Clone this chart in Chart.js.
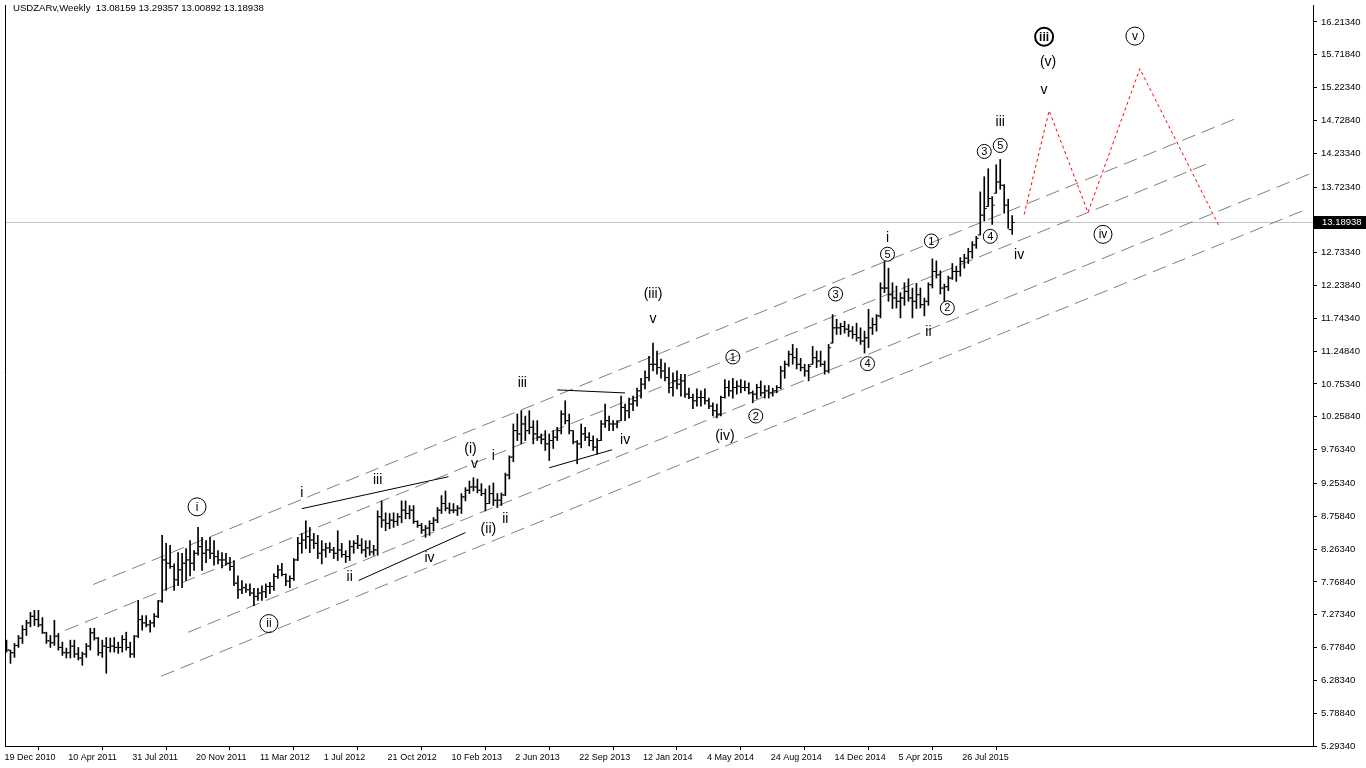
<!DOCTYPE html>
<html>
<head>
<meta charset="utf-8">
<script src="https://cdn.jsdelivr.net/npm/chart.js@4.4.0/dist/chart.umd.min.js"></script>
<style>
  html, body { margin: 0; padding: 0; background: #fff; }
  canvas { display: block; }
</style>
</head>
<body>
<canvas id="chart" width="1366" height="768"></canvas>
<script>
(function () {
    'use strict';

    // Weekly USDZAR bars, week 0 = 19 Dec 2010
    const opens = [
        6.80,6.74,6.70,6.81,6.92,7.05,7.15,7.25,7.20,7.12,
        7.00,6.88,6.85,6.95,6.78,6.70,6.70,6.80,6.68,6.62,
        6.68,6.80,7.00,6.92,6.70,6.80,6.78,6.80,6.78,6.78,
        6.90,6.78,6.68,6.95,7.20,7.15,7.12,7.15,7.25,7.48,
        8.10,8.05,8.00,7.80,7.95,8.05,8.10,8.05,8.20,8.30,
        8.20,8.25,8.20,8.15,8.10,8.10,8.05,8.00,7.75,7.65,
        7.68,7.65,7.60,7.55,7.60,7.62,7.70,7.70,7.85,7.95,
        7.88,7.78,7.82,8.10,8.35,8.40,8.45,8.40,8.35,8.20,
        8.25,8.28,8.25,8.20,8.25,8.18,8.15,8.30,8.35,8.32,
        8.25,8.28,8.22,8.25,8.75,8.70,8.65,8.70,8.68,8.75,
        8.85,8.80,8.85,8.68,8.62,8.55,8.58,8.65,8.70,8.85,
        8.95,8.88,8.85,8.85,8.88,9.05,9.15,9.20,9.20,9.15,
        9.10,8.95,9.10,9.00,9.00,9.08,9.38,9.65,10.05,10.00,
        10.15,10.05,10.10,10.00,9.95,9.92,9.85,9.90,9.95,10.05,
        10.30,10.20,10.05,9.88,9.85,10.00,9.95,9.90,9.80,9.90,
        10.15,10.20,10.15,10.15,10.20,10.40,10.35,10.45,10.50,10.65,
        10.75,10.85,11.05,11.05,11.00,10.95,10.85,10.70,10.80,10.75,
        10.80,10.60,10.55,10.50,10.55,10.55,10.50,10.42,10.35,10.30,
        10.55,10.70,10.65,10.70,10.72,10.70,10.70,10.62,10.60,10.70,
        10.62,10.65,10.62,10.65,10.70,10.95,11.05,11.20,11.15,11.05,
        11.00,10.95,11.05,11.15,11.10,11.05,10.95,11.37,11.60,11.60,
        11.62,11.58,11.55,11.50,11.45,11.40,11.45,11.60,11.65,11.78,
        12.20,12.20,12.10,12.05,12.00,12.05,12.15,12.05,12.00,12.10,
        11.95,12.00,12.25,12.45,12.40,12.20,12.22,12.35,12.45,12.45,
        12.60,12.65,12.75,12.85,13.00,13.30,13.43,13.55,13.63,13.80,
        13.75,13.45,13.08159
    ];
    const highs = [
        6.89,6.74,6.84,6.96,7.11,7.19,7.31,7.34,7.34,7.23,
        7.01,6.96,7.19,6.99,6.86,6.77,6.89,6.89,6.78,6.71,
        6.84,7.07,7.07,6.93,6.89,6.93,6.92,6.93,6.86,6.96,
        7.01,6.86,6.96,7.49,7.26,7.26,7.19,7.29,7.49,8.47,
        8.35,8.32,8.04,8.21,8.20,8.27,8.39,8.24,8.59,8.44,
        8.39,8.44,8.39,8.24,8.21,8.20,8.14,8.09,7.86,7.79,
        7.74,7.74,7.67,7.67,7.71,7.74,7.76,7.89,8.02,8.05,
        7.89,7.86,8.12,8.44,8.50,8.69,8.59,8.50,8.47,8.39,
        8.35,8.36,8.29,8.54,8.35,8.24,8.39,8.39,8.47,8.42,
        8.39,8.39,8.32,8.84,8.99,8.81,8.80,8.81,8.80,8.99,
        8.99,8.92,8.92,8.69,8.65,8.62,8.69,8.74,8.89,9.07,
        9.14,8.96,8.95,8.92,9.10,9.19,9.29,9.34,9.32,9.25,
        9.17,9.22,9.26,9.10,9.11,9.41,9.67,10.15,10.30,10.35,
        10.27,10.35,10.20,10.20,10.00,10.05,10.00,10.05,10.10,10.35,
        10.50,10.30,10.05,9.90,10.15,10.10,10.02,9.97,9.93,10.20,
        10.45,10.27,10.20,10.20,10.57,10.45,10.54,10.57,10.69,10.84,
        10.95,11.17,11.37,11.25,11.13,11.07,11.00,10.92,10.95,10.90,
        10.90,10.69,10.60,10.68,10.65,10.68,10.54,10.47,10.45,10.57,
        10.82,10.80,10.84,10.80,10.82,10.80,10.77,10.65,10.75,10.80,
        10.73,10.73,10.69,10.73,11.02,11.10,11.25,11.35,11.29,11.14,
        11.05,11.05,11.32,11.25,11.25,11.10,11.35,11.80,11.73,11.67,
        11.70,11.65,11.62,11.67,11.60,11.55,11.88,11.75,11.80,12.28,
        12.60,12.50,12.28,12.23,12.13,12.28,12.34,12.20,12.27,12.20,
        12.05,12.28,12.64,12.61,12.46,12.26,12.38,12.57,12.53,12.66,
        12.71,12.80,12.90,12.98,13.65,13.88,14.00,13.58,14.06,14.14,
        13.76,13.54,13.29357
    ];
    const lows = [
        6.71,6.54,6.63,6.78,6.84,6.96,7.09,7.11,7.09,6.99,
        6.84,6.78,6.81,6.74,6.66,6.62,6.62,6.63,6.59,6.51,
        6.63,6.74,6.89,6.66,6.63,6.39,6.71,6.71,6.69,6.71,
        6.74,6.63,6.63,6.93,7.04,7.09,7.01,7.09,7.23,7.46,
        7.64,7.97,7.64,7.71,7.68,7.79,7.86,7.94,8.17,7.94,
        8.06,8.12,8.02,8.04,7.98,8.02,7.94,7.71,7.52,7.59,
        7.61,7.56,7.41,7.49,7.49,7.53,7.59,7.64,7.82,7.86,
        7.71,7.68,7.79,8.09,8.20,8.27,8.21,8.27,8.12,8.04,
        8.14,8.21,8.12,8.09,8.14,8.06,8.09,8.20,8.27,8.20,
        8.14,8.17,8.17,8.17,8.59,8.54,8.57,8.59,8.62,8.66,
        8.72,8.72,8.65,8.59,8.50,8.44,8.47,8.54,8.66,8.80,
        8.84,8.80,8.81,8.77,8.80,8.99,9.10,9.14,9.11,9.07,
        8.84,8.95,8.92,8.89,8.92,9.07,9.32,9.58,9.90,9.85,
        9.90,10.00,9.85,9.90,9.85,9.75,9.60,9.78,9.90,10.00,
        10.15,10.00,9.85,9.55,9.79,9.90,9.82,9.75,9.70,9.90,
        10.10,10.05,10.05,10.09,10.20,10.20,10.24,10.35,10.42,10.54,
        10.68,10.80,10.95,10.90,10.84,10.80,10.62,10.57,10.68,10.57,
        10.55,10.53,10.38,10.42,10.42,10.45,10.38,10.27,10.24,10.27,
        10.54,10.57,10.54,10.60,10.62,10.65,10.60,10.47,10.53,10.57,
        10.54,10.54,10.57,10.62,10.68,10.84,11.02,11.05,10.98,10.95,
        10.87,10.80,11.05,11.00,11.02,10.90,10.92,11.37,11.50,11.50,
        11.52,11.47,11.44,11.40,11.35,11.22,11.30,11.50,11.55,11.75,
        12.13,12.00,11.89,11.90,11.75,11.94,12.00,11.75,11.89,11.90,
        11.78,11.94,12.20,12.35,12.11,12.00,12.16,12.33,12.30,12.38,
        12.50,12.57,12.65,12.80,13.00,13.21,13.43,13.16,13.63,13.69,
        13.33,13.10,13.00892
    ];
    const closes = [
        6.74,6.70,6.81,6.92,7.05,7.15,7.25,7.20,7.12,7.00,
        6.88,6.85,6.95,6.78,6.70,6.70,6.80,6.68,6.62,6.68,
        6.80,7.00,6.92,6.70,6.80,6.78,6.80,6.78,6.78,6.90,
        6.78,6.68,6.95,7.20,7.15,7.12,7.15,7.25,7.48,8.10,
        8.05,8.00,7.80,7.95,8.05,8.10,8.05,8.20,8.30,8.20,
        8.25,8.20,8.15,8.10,8.10,8.05,8.00,7.75,7.65,7.68,
        7.65,7.60,7.55,7.60,7.62,7.70,7.70,7.85,7.95,7.88,
        7.78,7.82,8.10,8.35,8.40,8.45,8.40,8.35,8.20,8.25,
        8.28,8.25,8.20,8.25,8.18,8.15,8.30,8.35,8.32,8.25,
        8.28,8.22,8.25,8.75,8.70,8.65,8.70,8.68,8.75,8.85,
        8.80,8.85,8.68,8.62,8.55,8.58,8.65,8.70,8.85,8.95,
        8.88,8.85,8.85,8.88,9.05,9.15,9.20,9.20,9.15,9.10,
        8.95,9.10,9.00,9.00,9.08,9.38,9.65,10.05,10.00,10.15,
        10.05,10.10,10.00,9.95,9.92,9.85,9.90,9.95,10.05,10.30,
        10.20,10.05,9.88,9.85,10.00,9.95,9.90,9.80,9.90,10.15,
        10.20,10.15,10.15,10.18,10.40,10.35,10.45,10.50,10.65,10.75,
        10.85,11.05,11.05,11.00,10.95,10.85,10.70,10.80,10.75,10.80,
        10.60,10.55,10.50,10.55,10.55,10.50,10.42,10.35,10.30,10.55,
        10.70,10.65,10.70,10.72,10.70,10.70,10.62,10.60,10.70,10.62,
        10.65,10.62,10.65,10.70,10.95,11.05,11.20,11.15,11.05,11.00,
        10.95,11.02,11.15,11.10,11.05,10.95,11.30,11.60,11.60,11.62,
        11.58,11.55,11.50,11.45,11.40,11.45,11.60,11.65,11.78,12.20,
        12.20,12.10,12.05,12.00,12.05,12.15,12.05,12.00,12.10,11.95,
        12.00,12.25,12.45,12.40,12.20,12.22,12.35,12.45,12.45,12.60,
        12.65,12.75,12.85,12.95,13.30,13.40,13.55,13.45,13.80,13.75,
        13.45,13.08159,13.18938
    ];

    // date labels every 16 weeks
    const xTickIdx = [0,16,32,48,64,80,96,112,128,144,160,176,192,208,224,240];
    const xTickLabels = ['19 Dec 2010','10 Apr 2011','31 Jul 2011','20 Nov 2011','11 Mar 2012','1 Jul 2012',
        '21 Oct 2012','10 Feb 2013','2 Jun 2013','22 Sep 2013','12 Jan 2014','4 May 2014',
        '24 Aug 2014','14 Dec 2014','5 Apr 2015','26 Jul 2015'];

    const yTickValues = [16.2134,15.7184,15.2234,14.7284,14.2334,13.7234,12.7334,12.2384,11.7434,11.2484,
        10.7534,10.2584,9.7634,9.2534,8.7584,8.2634,7.7684,7.2734,6.7784,6.2834,5.7884,5.2934];

    // channel lines [week, price] pairs
    const channelA = [[21.75, 7.73], [308, 14.755]];
    const channelB = [[14.75, 7.038], [301, 14.078]];
    const channelC = [[45.5, 7.008], [326.75, 13.927]];
    const channelD = [[38.75, 6.346], [325, 13.371]];

    // solid wedge / triangle lines
    const wedgeTop = [[74, 8.873], [110.75, 9.355]];
    const wedgeBottom = [[88.25, 7.790], [115, 8.512]];
    const triTop = [[138, 10.664], [155, 10.618]];
    const triBottom = [[136, 9.490], [151.75, 9.761]];

    // red projection path
    const projection = [[255, 13.311], [261.25, 14.875], [271, 13.341], [284, 15.507], [303.75, 13.145]];

    // wave labels: week, price, text, kind (t text, n circled digit, c circled, b bold circled)
    const waveLabels = [
        [47.75, 8.90, 'i', 'c'], [65.75, 7.14, 'ii', 'c'],
        [74, 9.11, 'i', 't'], [93, 9.30, 'iii', 't'], [86, 7.84, 'ii', 't'], [106, 8.12, 'iv', 't'],
        [116.25, 9.776, '(i)', 't'], [117.25, 9.55, 'v', 't'], [122, 9.66, 'i', 't'],
        [120.75, 8.56, '(ii)', 't'], [125, 8.71, 'ii', 't'], [129.25, 10.77, 'iii', 't'],
        [155, 9.90, 'iv', 't'], [162, 12.11, '(iii)', 't'], [162, 11.73, 'v', 't'],
        [182, 11.16, '1', 'n'], [187.75, 10.27, '2', 'n'], [180, 9.97, '(iv)', 't'],
        [207.75, 12.11, '3', 'n'], [215.75, 11.06, '4', 'n'],
        [220.75, 12.95, 'i', 't'], [220.75, 12.71, '5', 'n'],
        [231.75, 12.91, '1', 'n'], [235.75, 11.90, '2', 'n'], [231, 11.54, 'ii', 't'],
        [245, 14.26, '3', 'n'], [249, 14.35, '5', 'n'], [249, 14.70, 'iii', 't'],
        [246.5, 12.98, '4', 'n'], [253.75, 12.69, 'iv', 't'],
        [260, 15.99, 'iii', 'b'], [261, 15.60, '(v)', 't'], [260, 15.19, 'v', 't'],
        [282.75, 16.00, 'v', 'c'], [274.75, 13.01, 'iv', 'c']
    ];

    const symbolTitle = 'USDZARv,Weekly';
    const lastIdx = closes.length - 1;
    const lastClose = closes[lastIdx];

    const X_MIN = -0.375, X_MAX = 327.375;
    const Y_MIN = 5.2934, Y_MAX = 16.469;
    const FONT = '"Liberation Sans", Arial, sans-serif';

    function pts(arr) { return arr.map(p => ({ x: p[0], y: p[1] })); }

    function lineSet(arr, color, dash, order) {
        return {
            type: 'line', data: pts(arr), borderColor: color, borderWidth: 1,
            borderDash: dash, pointRadius: 0, fill: false, tension: 0, order: order
        };
    }

    const decor = {
        id: 'decor',
        beforeDraw(chart) {
            const ctx = chart.ctx;
            ctx.save();
            ctx.fillStyle = '#fff';
            ctx.fillRect(0, 0, chart.width, chart.height);
            ctx.restore();
        },
        afterDatasetsDraw(chart) {
            const ctx = chart.ctx;
            const xs = chart.scales.x, ys = chart.scales.y;
            ctx.save();
            ctx.fillStyle = '#000';
            ctx.strokeStyle = '#000';
            ctx.textAlign = 'center';
            ctx.textBaseline = 'middle';
            waveLabels.forEach(function (l) {
                const px = xs.getPixelForValue(l[0]);
                const py = ys.getPixelForValue(l[1]);
                const kind = l[3];
                if (kind === 'n') {
                    ctx.beginPath();
                    ctx.lineWidth = 1;
                    ctx.arc(px, py, 7, 0, Math.PI * 2);
                    ctx.stroke();
                    ctx.font = '11px ' + FONT;
                    ctx.fillText(l[2], px, py + 0.5);
                } else if (kind === 'c' || kind === 'b') {
                    ctx.beginPath();
                    ctx.lineWidth = kind === 'b' ? 2 : 1;
                    ctx.arc(px, py, 9, 0, Math.PI * 2);
                    ctx.stroke();
                    ctx.font = (kind === 'b' ? 'bold ' : '') + '12px ' + FONT;
                    ctx.fillText(l[2], px, py + 0.5);
                } else {
                    ctx.font = '14px ' + FONT;
                    ctx.fillText(l[2], px, py);
                }
            });
            ctx.restore();
        },
        afterDraw(chart) {
            const ctx = chart.ctx;
            const a = chart.chartArea;
            const ys = chart.scales.y;
            ctx.save();
            // frame
            ctx.strokeStyle = '#000';
            ctx.lineWidth = 1;
            ctx.beginPath();
            ctx.moveTo(a.left + 0.5, a.top);
            ctx.lineTo(a.left + 0.5, a.bottom + 0.5);
            ctx.lineTo(a.right + 0.5, a.bottom + 0.5);
            ctx.lineTo(a.right + 0.5, a.top);
            ctx.stroke();
            // title
            ctx.fillStyle = '#000';
            ctx.font = '9.6px ' + FONT;
            ctx.textAlign = 'left';
            ctx.textBaseline = 'middle';
            ctx.fillText(symbolTitle + '  ' + [opens[lastIdx], highs[lastIdx], lows[lastIdx], closes[lastIdx]]
                .map(v => v.toFixed(5)).join(' '), 13, 8.5);
            // current price box
            const py = Math.round(ys.getPixelForValue(lastClose));
            ctx.fillStyle = '#000';
            ctx.fillRect(a.right + 1, py - 6, chart.width - a.right - 1, 13);
            ctx.fillStyle = '#fff';
            ctx.font = '9.5px ' + FONT;
            ctx.fillText(lastClose.toFixed(5), a.right + 9, py + 0.5);
            ctx.restore();
        }
    };

    const barData = highs.map((h, i) => ({ x: i, y: [lows[i], h] }));
    const openData = opens.map((v, i) => ({ x: i - 0.375, y: v }));
    const closeData = closes.map((v, i) => ({ x: i + 0.375, y: v }));

    new Chart(document.getElementById('chart'), {
        type: 'bar',
        data: {
            datasets: [
                { type: 'bar', data: barData, backgroundColor: '#000', borderWidth: 0,
                  barThickness: 1, order: 0 },
                { type: 'line', data: openData, showLine: false, pointStyle: 'line', pointRadius: 1,
                  pointBorderWidth: 1, pointBorderColor: '#000', order: 0 },
                { type: 'line', data: closeData, showLine: false, pointStyle: 'line', pointRadius: 1,
                  pointBorderWidth: 1, pointBorderColor: '#000', order: 0 },
                lineSet([[X_MIN, lastClose], [X_MAX, lastClose]], '#c0c0c0', [], 5),
                lineSet(channelA, '#808080', [14, 7], 3),
                lineSet(channelB, '#808080', [14, 7], 3),
                lineSet(channelC, '#808080', [14, 7], 3),
                lineSet(channelD, '#808080', [14, 7], 3),
                lineSet(wedgeTop, '#000', [], 2),
                lineSet(wedgeBottom, '#000', [], 2),
                lineSet(triTop, '#000', [], 2),
                lineSet(triBottom, '#000', [], 2),
                lineSet(projection, '#ff0000', [3, 3], 1)
            ]
        },
        options: {
            responsive: false,
            animation: false,
            devicePixelRatio: 1,
            layout: { padding: { top: 3, left: 2, right: 0, bottom: 0 } },
            plugins: { legend: { display: false }, tooltip: { enabled: false } },
            scales: {
                x: {
                    type: 'linear', min: X_MIN, max: X_MAX, offset: false,
                    grid: { drawOnChartArea: false, drawTicks: true, tickLength: 4, color: '#000' },
                    border: { display: true, color: '#000' },
                    ticks: {
                        autoSkip: false, maxRotation: 0, align: 'start', labelOffset: -2, padding: 2,
                        color: '#000', font: { family: FONT, size: 9 },
                        callback: function (v) {
                            const k = xTickIdx.indexOf(v);
                            return k >= 0 ? xTickLabels[k] : '';
                        }
                    },
                    afterBuildTicks: function (s) { s.ticks = xTickIdx.map(v => ({ value: v })); },
                    afterFit: function (s) {
                        s.height = 22; s.paddingLeft = 0; s.paddingRight = 0;
                    }
                },
                y: {
                    type: 'linear', position: 'right', min: Y_MIN, max: Y_MAX,
                    grid: { drawOnChartArea: false, drawTicks: true, tickLength: 4, color: '#000' },
                    border: { display: true, color: '#000' },
                    ticks: {
                        padding: 4, color: '#000', font: { family: FONT, size: 9.5 },
                        callback: function (v) { return v.toFixed(5); }
                    },
                    afterBuildTicks: function (s) { s.ticks = yTickValues.map(v => ({ value: v })); },
                    afterFit: function (s) {
                        s.width = 53; s.paddingTop = 0; s.paddingBottom = 0;
                    }
                }
            }
        },
        plugins: [decor]
    });
})();
</script>
</body>
</html>
